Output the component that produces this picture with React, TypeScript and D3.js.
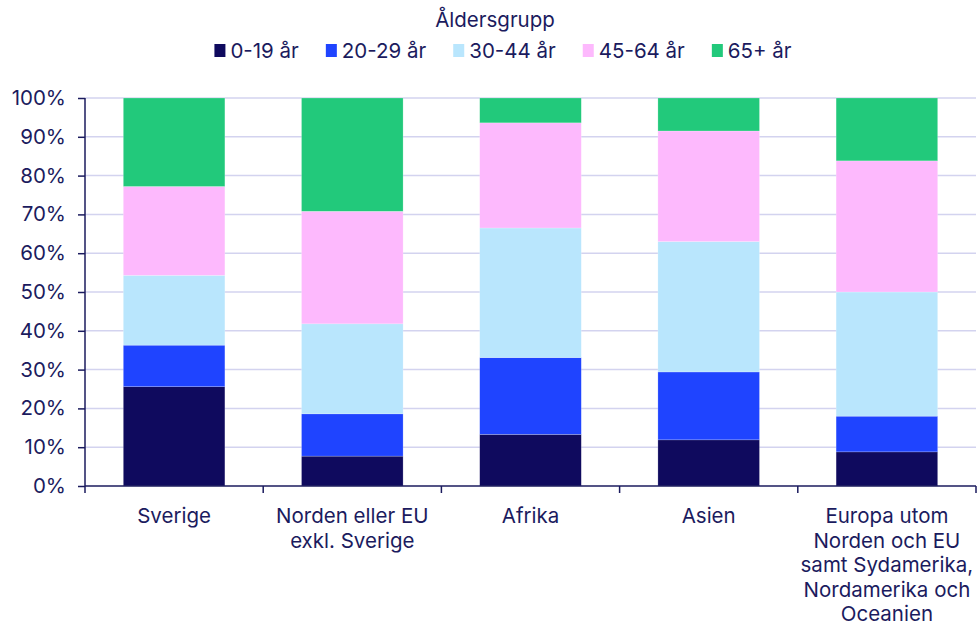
import React, { useEffect, useRef } from "react";
import * as d3 from "d3";

const categories = [
  ["Sverige"],
  ["Norden eller EU", "exkl. Sverige"],
  ["Afrika"],
  ["Asien"],
  ["Europa utom", "Norden och EU", "samt Sydamerika,", "Nordamerika och", "Oceanien"],
];
const seriesNames = ["0-19 år", "20-29 år", "30-44 år", "45-64 år", "65+ år"];
const seriesColors = ["#0f0a5e", "#1f44ff", "#b9e6fd", "#fdb9fd", "#22c97b"];
const age0_19 = [25.6, 7.7, 13.3, 11.9, 8.8];
const age20_29 = [10.7, 10.9, 19.8, 17.5, 9.2];
const age30_44 = [18.0, 23.2, 33.4, 33.6, 32.0];
const age45_64 = [22.9, 29.0, 27.1, 28.5, 33.8];
const age65 = [22.8, 29.2, 6.4, 8.5, 16.2];
const yTicks = [0, 10, 20, 30, 40, 50, 60, 70, 80, 90, 100];
const legendTitle = "Åldersgrupp";

const W = 980, H = 628;
const FONT = "Inter, 'Noto Sans', sans-serif";
const TEXT = "#1b1b5e";
const FS = 20.5;

export default function App() {
  const ref = useRef<SVGSVGElement>(null);
  useEffect(() => {
    const svg = d3.select(ref.current);
    svg.selectAll("*").remove();
    const m = { left: 85, right: 976, top: 98, bottom: 486 };
    const x = d3.scaleBand<number>().domain(d3.range(categories.length)).range([m.left, m.right]).paddingInner(0.43).paddingOuter(0.215);
    const y = d3.scaleLinear().domain([0, 100]).range([m.bottom, m.top]);
    const series = [age0_19, age20_29, age30_44, age45_64, age65];

    // grid
    svg.append("g").selectAll("line").data(yTicks.filter(t => t > 0)).join("line")
      .attr("x1", m.left).attr("x2", m.right).attr("y1", d => y(d)).attr("y2", d => y(d))
      .attr("stroke", "#d3d3ef").attr("stroke-width", 1.5);

    // bars
    const rows = categories.map((_, i) => {
      const r: any = { i };
      seriesNames.forEach((s, k) => (r[s] = series[k][i]));
      return r;
    });
    const stack = d3.stack<any>().keys(seriesNames)(rows);
    stack.forEach((layer, k) => {
      svg.append("g").selectAll("rect").data(layer).join("rect")
        .attr("x", d => x((d.data as any).i)!)
        .attr("width", x.bandwidth())
        .attr("y", d => y(d[1]))
        .attr("height", d => y(d[0]) - y(d[1]))
        .attr("fill", seriesColors[k])
        .attr("stroke", "rgba(255,255,255,0.35)").attr("stroke-width", 0.6);
    });

    // y axis
    const ya = svg.append("g").attr("transform", `translate(${m.left},0)`)
      .call(d3.axisLeft(y).tickValues(yTicks).tickSize(7).tickPadding(12).tickFormat(d => `${d}%`));
    ya.select(".domain").attr("stroke", TEXT).attr("stroke-width", 1.5).attr("d", `M0,${m.top}V${m.bottom}`);
    ya.selectAll(".tick line").attr("stroke", TEXT).attr("stroke-width", 1.5);
    ya.selectAll(".tick text").attr("fill", TEXT).attr("font-size", FS).attr("font-family", FONT);

    // x axis
    const bounds = d3.range(categories.length + 1).map(i => m.left + i * (m.right - m.left) / categories.length);
    svg.append("line").attr("x1", m.left).attr("x2", m.right).attr("y1", m.bottom).attr("y2", m.bottom)
      .attr("stroke", TEXT).attr("stroke-width", 1.5);
    svg.append("g").selectAll("line").data(bounds).join("line")
      .attr("x1", d => d).attr("x2", d => d).attr("y1", m.bottom).attr("y2", m.bottom + 7)
      .attr("stroke", TEXT).attr("stroke-width", 1.5);
    categories.forEach((lines, i) => {
      const cx = x(i)! + x.bandwidth() / 2;
      const t = svg.append("text").attr("text-anchor", "middle").attr("fill", TEXT)
        .attr("font-size", FS).attr("font-family", FONT);
      lines.forEach((l, j) => t.append("tspan").attr("x", cx).attr("y", 523 + j * 24.5).text(l));
    });

    // legend
    svg.append("text").attr("x", 495).attr("y", 27).attr("text-anchor", "middle").attr("fill", TEXT)
      .attr("font-size", FS).attr("font-family", FONT).text(legendTitle);
    const lg = svg.append("g");
    let cx = 0;
    seriesNames.forEach((s, k) => {
      const g = lg.append("g");
      g.append("rect").attr("x", 0).attr("y", 44).attr("width", 11).attr("height", 13).attr("fill", seriesColors[k]);
      const t = g.append("text").attr("x", 16).attr("y", 58).attr("fill", TEXT).attr("font-size", FS)
        .attr("font-family", FONT).text(s);
      const w = (t.node() as SVGTextElement).getComputedTextLength();
      g.attr("transform", `translate(${cx},0)`);
      cx += 16 + w + 27;
    });
    const total = cx - 27;
    lg.attr("transform", `translate(${503 - total / 2},0)`);
  }, []);
  return <svg ref={ref} width={W} height={H} style={{ position: "absolute", left: 0, top: 0, background: "#fff" }} />;
}
